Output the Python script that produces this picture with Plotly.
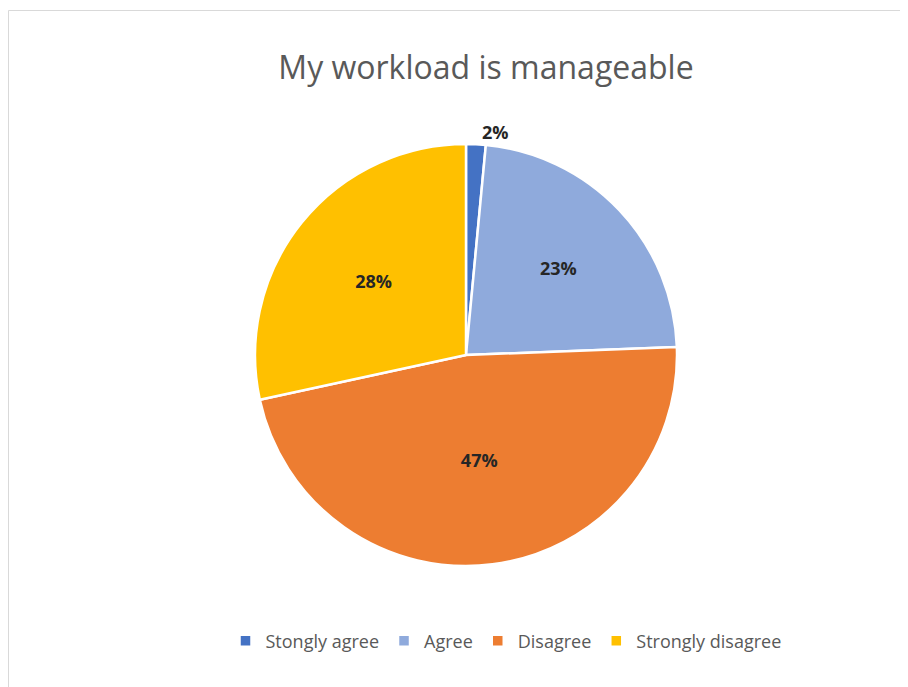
import plotly.graph_objects as go

labels = ["Stongly agree", "Agree", "Disagree", "Strongly disagree"]
shares = [1.5, 22.9, 47.2, 28.4]
colors = ["#4472C4", "#8FAADC", "#ED7D31", "#FFC000"]
text_pos = ["outside", "inside", "inside", "inside"]

W, H = 900, 679  # page has an 8px body margin

fig = go.Figure(
    go.Pie(
        labels=labels,
        values=shares,
        sort=False,
        direction="clockwise",
        rotation=0,
        marker=dict(colors=colors, line=dict(color="white", width=2.5)),
        texttemplate="%{percent:.0%}",
        textposition=text_pos,
        textfont=dict(family="Open Sans", size=18, color="#262626", weight="bold"),
        insidetextorientation="horizontal",
        domain=dict(x=[247 / W, 669 / W], y=[121 / H, 543 / H]),
        hoverinfo="label+percent",
    )
)

fig.update_layout(
    width=W,
    height=H,
    margin=dict(l=0, r=0, t=0, b=0),
    paper_bgcolor="white",
    plot_bgcolor="white",
    font=dict(family="Open Sans", color="#595959"),
    title=dict(
        text="My workload is manageable",
        x=478 / W,
        xanchor="center",
        y=1 - 60 / H,
        yanchor="middle",
        font=dict(size=32, color="#595959"),
    ),
    legend=dict(
        orientation="h",
        x=498 / W,
        xanchor="center",
        y=1 - 633 / H,
        yanchor="middle",
        font=dict(size=18, color="#595959"),
        itemwidth=30,
    ),
    shapes=[
        dict(
            type="rect",
            xref="paper",
            yref="paper",
            x0=0.5 / W,
            x1=1.05,
            y0=-0.05,
            y1=1 - 2.5 / H,
            line=dict(color="#D9D9D9", width=1),
            fillcolor="rgba(0,0,0,0)",
        )
    ],
)

fig.write_html("out.html")
